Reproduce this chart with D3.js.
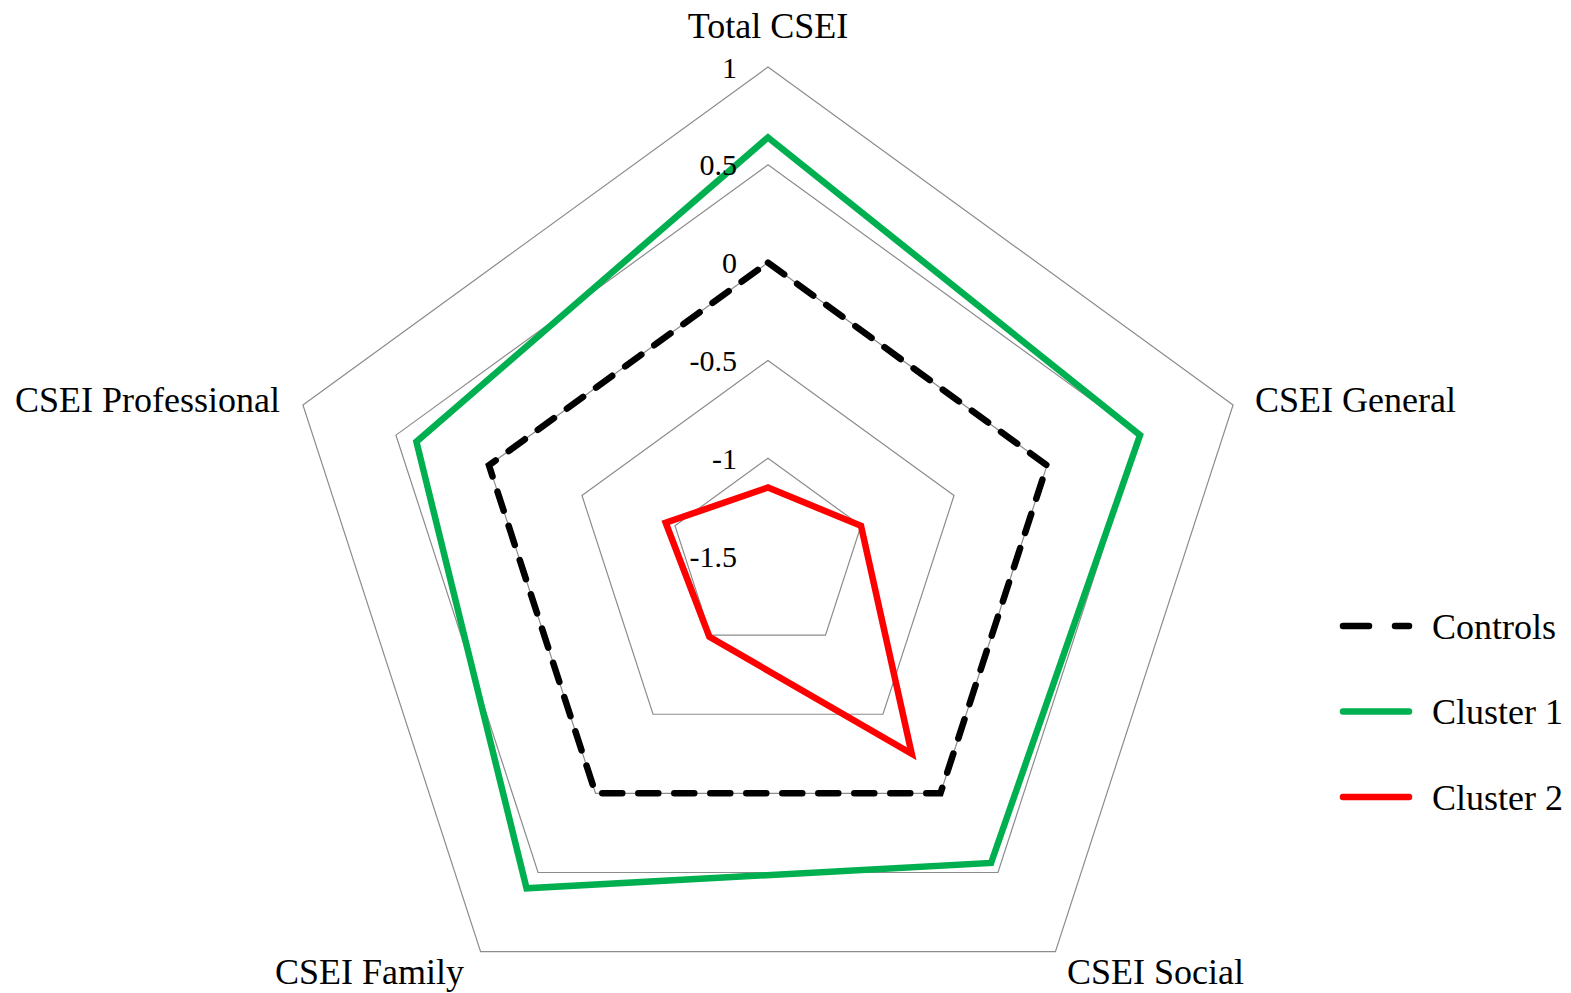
<!DOCTYPE html>
<html>
<head>
<meta charset="utf-8">
<script src="https://cdn.jsdelivr.net/npm/d3@7"></script>
<style>
  body { margin: 0; background: #fff; }
  text { font-family: "Liberation Serif", "Times New Roman", serif; fill: #000; }
</style>
</head>
<body>
<svg id="chart" width="1571" height="993"></svg>
<script>
// axes, clockwise from the top
var axes = ["Total CSEI", "CSEI General", "CSEI Social", "CSEI Family", "CSEI Professional"];
var ticks = [1, 0.5, 0, -0.5, -1, -1.5];
var rings = [-1, -0.5, 0, 0.5, 1];

var controls = [0, 0, 0, 0, 0];
var cluster1 = [0.64, 0.50, 0.44, 0.60, 0.39];
var cluster2 = [-1.15, -1.0, -0.25, -0.99, -0.95];

var series = [
    { name: "Controls", values: controls, color: "#000000", dash: "20,16" },
    { name: "Cluster 1", values: cluster1, color: "#00B050", dash: null },
    { name: "Cluster 2", values: cluster2, color: "#FF0000", dash: null }
];

(function() {
    var cx = 768, cy = 556, R = 489;
    var svg = d3.select("#chart");
    var g = svg.append("g").attr("transform", "translate(" + cx + "," + cy + ")");

    var r = d3.scaleLinear().domain([-1.5, 1]).range([0, R]);
    var angle = d3.scalePoint().domain(d3.range(axes.length)).range([0, 2 * Math.PI * 4 / 5]);

    var radial = d3.lineRadial()
        .angle(function (d, i) { return angle(i); })
        .radius(function (d) { return r(d); })
        .curve(d3.curveLinearClosed);

    // grid pentagons
    g.selectAll(".ring")
        .data(rings)
        .enter()
        .append("path")
        .attr("class", "ring")
        .attr("d", function (v) { return radial(axes.map(function () { return v; })); })
        .attr("fill", "none")
        .attr("stroke", "#8c8c8c")
        .attr("stroke-width", 1.2);

    // series
    g.selectAll(".series")
        .data(series)
        .enter()
        .append("path")
        .attr("class", "series")
        .attr("d", function (d) { return radial(d.values); })
        .attr("fill", "none")
        .attr("stroke", function (d) { return d.color; })
        .attr("stroke-width", 6.5)
        .attr("stroke-linejoin", "miter")
        .attr("stroke-linecap", function (d) { return d.dash ? "round" : "butt"; })
        .attr("stroke-dasharray", function (d) { return d.dash; });

    // tick labels along the top axis
    g.selectAll(".tick")
        .data(ticks)
        .enter()
        .append("text")
        .attr("class", "tick")
        .attr("x", -31)
        .attr("y", function (d) { return -r(d); })
        .attr("dy", "0.35em")
        .attr("text-anchor", "end")
        .attr("font-size", "30px")
        .text(function (d) { return d; });

    // axis labels, nudged off the outer vertices
    var labelPos = [
        { anchor: "middle", dx: 0, dy: -42 },
        { anchor: "start", dx: 22, dy: -6 },
        { anchor: "middle", dx: 100, dy: 20 },
        { anchor: "middle", dx: -111, dy: 20 },
        { anchor: "end", dx: -23, dy: -6 }
    ];
    g.selectAll(".axis-label")
        .data(axes)
        .enter()
        .append("text")
        .attr("class", "axis-label")
        .attr("x", function (d, i) { return R * Math.sin(angle(i)) + labelPos[i].dx; })
        .attr("y", function (d, i) { return -R * Math.cos(angle(i)) + labelPos[i].dy; })
        .attr("dy", "0.35em")
        .attr("text-anchor", function (d, i) { return labelPos[i].anchor; })
        .attr("font-size", "36px")
        .text(function (d) { return d; });

    // legend
    var legend = svg.append("g").attr("transform", "translate(1341,626)");
    var item = legend.selectAll(".item")
        .data(series)
        .enter()
        .append("g")
        .attr("transform", function (d, i) { return "translate(0," + (i * 85.5) + ")"; });
    item.append("line")
        .attr("x1", 2).attr("x2", 68)
        .attr("stroke", function (d) { return d.color; })
        .attr("stroke-width", 6.5)
        .attr("stroke-linecap", "round")
        .attr("stroke-dasharray", function (d) { return d.dash ? "26,26" : null; });
    item.append("text")
        .attr("x", 91)
        .attr("dy", "0.35em")
        .attr("font-size", "36px")
        .text(function (d) { return d.name; });
})();
</script>
</body>
</html>
